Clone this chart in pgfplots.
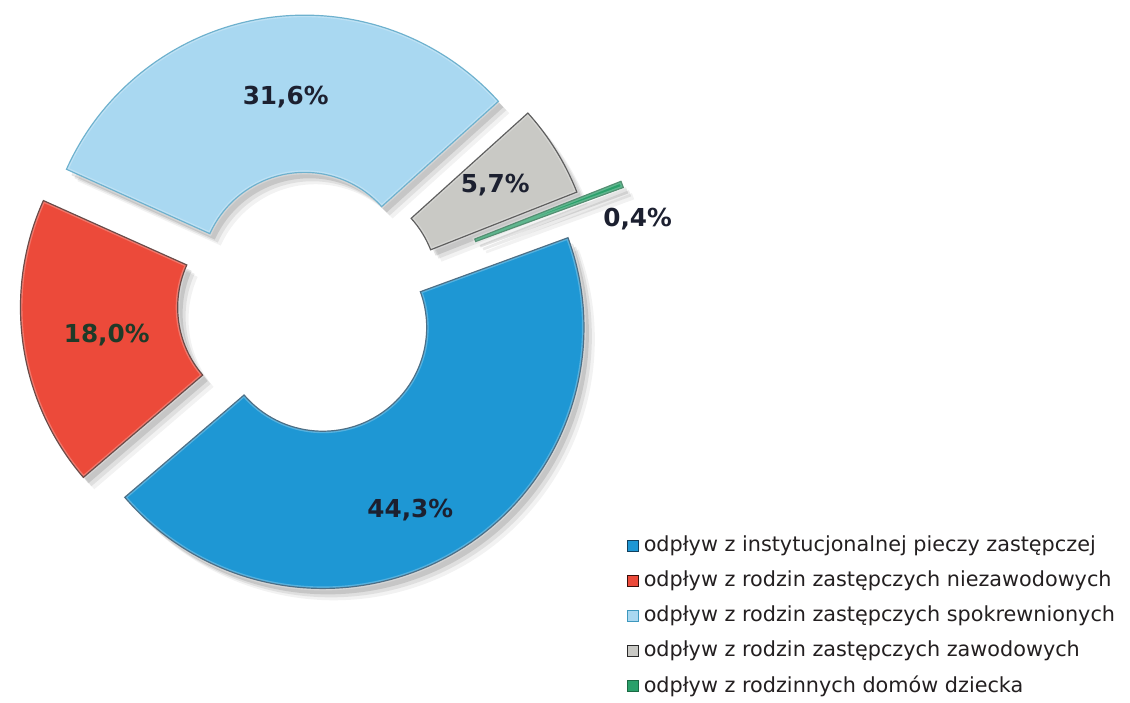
\documentclass[border=0pt]{standalone}
\usepackage{pgfplots}
\pgfplotsset{compat=1.18}
\usepackage{pgfplotstable}
\usepackage{fontspec}
\setmainfont{DejaVu Sans}

\definecolor{cBlue}{HTML}{1E97D4}
\definecolor{cBlueD}{HTML}{12405E}
\definecolor{cRed}{HTML}{EC4A3A}
\definecolor{cRedD}{HTML}{3A100C}
\definecolor{cLBlue}{HTML}{A9D8F1}
\definecolor{cLBlueD}{HTML}{3E98BE}
\definecolor{cGray}{HTML}{C9C9C5}
\definecolor{cGrayD}{HTML}{2A2A2A}
\definecolor{cGreen}{HTML}{2AA06A}
\definecolor{cGreenD}{HTML}{1B6A44}
\definecolor{cLab}{HTML}{1C2030}
\definecolor{cLabG}{HTML}{1E3A28}
\definecolor{cTxt}{HTML}{231F20}

% share (%), explosion (px)
\pgfplotstableread{
name pct explode
inst  44.3 28
niez  18.0 28
spok  31.6 28
zaw   5.7  30
rdd   0.4  75
}\datatable

\def\cx{299.5}\def\cy{388}
\def\Ro{264}\def\Ri{105}
\def\Ropt{132}\def\Ript{52.5}
\gdef\cum{20.1}
\foreach \i in {0,...,4}{%
  \pgfplotstablegetelem{\i}{pct}\of\datatable \let\p\pgfplotsretval
  \pgfplotstablegetelem{\i}{explode}\of\datatable \let\ex\pgfplotsretval
  \pgfmathsetmacro\aa{\cum}%
  \pgfmathsetmacro\ab{\cum-3.6*\p}%
  \pgfmathsetmacro\md{(\aa+\ab)/2}%
  \pgfmathsetmacro\mx{\cx+\ex*cos(\md)}%
  \pgfmathsetmacro\my{\cy+\ex*sin(\md)}%
  \pgfmathsetmacro\ox{\mx+\Ro*cos(\aa)}%
  \pgfmathsetmacro\oy{\my+\Ro*sin(\aa)}%
  \pgfmathsetmacro\ix{\mx+\Ri*cos(\ab)}%
  \pgfmathsetmacro\iy{\my+\Ri*sin(\ab)}%
  \expandafter\xdef\csname aa\i\endcsname{\aa}%
  \expandafter\xdef\csname ab\i\endcsname{\ab}%
  \expandafter\xdef\csname ox\i\endcsname{\ox}%
  \expandafter\xdef\csname oy\i\endcsname{\oy}%
  \expandafter\xdef\csname ix\i\endcsname{\ix}%
  \expandafter\xdef\csname iy\i\endcsname{\iy}%
  \xdef\cum{\ab}%
}

% #1 index, #2 dx, #3 dy (axis units), #4 style
\newcommand\sector[4]{%
  \edef\tmp{\noexpand\path[#4]
    (axis cs:{\csname ox#1\endcsname+#2},{\csname oy#1\endcsname+#3})
    arc[start angle=\csname aa#1\endcsname, end angle=\csname ab#1\endcsname, radius=\Ropt pt]
    -- (axis cs:{\csname ix#1\endcsname+#2},{\csname iy#1\endcsname+#3})
    arc[start angle=\csname ab#1\endcsname, end angle=\csname aa#1\endcsname, radius=\Ript pt]
    -- cycle;}\tmp}
\newcommand\fullsector[3]{% idx, fill, draw
  \sector{#1}{5}{-6}{fill=black, opacity=0.11}
  \sector{#1}{8}{-9}{fill=black, opacity=0.08}
  \sector{#1}{11}{-12}{fill=black, opacity=0.05}
  \sector{#1}{0}{0}{fill=#2, draw=#3, line width=0.6pt}
  \sector{#1}{0}{0}{draw=white, opacity=0.25, line width=2pt}
}

\begin{document}
\begin{tikzpicture}
\begin{axis}[
  scale only axis, width=565pt, height=347.5pt,
  xmin=0, xmax=1130, ymin=0, ymax=695,
  hide axis, clip=false,
  legend style={draw=none, fill=none, at={(axis cs:615,159)}, anchor=north west,
    font=\fontsize{10.5}{12}\selectfont\color{cTxt},
    nodes={inner sep=0.6pt, text height=8pt, text depth=2.5pt},
    row sep=6.1pt},
  legend cell align=left,
]
\path (axis cs:0,0) rectangle (axis cs:1130,695);
\fullsector{0}{cBlue}{cBlueD}
\fullsector{1}{cRed}{cRedD}
\fullsector{2}{cLBlue}{cLBlueD}
\fullsector{3}{cGray}{cGrayD}
\fullsector{4}{cGreen}{cGreenD}

\node[font=\fontsize{12.5}{14}\bfseries, text=cLab] at (axis cs:276,597) {31,6\%};
\node[font=\fontsize{12.5}{14}\bfseries, text=cLabG] at (axis cs:95,356) {18,0\%};
\node[font=\fontsize{12.5}{14}\bfseries, text=cLab] at (axis cs:402,179) {44,3\%};
\node[font=\fontsize{12.5}{14}\bfseries, text=cLab] at (axis cs:488,508) {5,7\%};
\node[font=\fontsize{12.5}{14}\bfseries, text=cLab] at (axis cs:632,473) {0,4\%};

\addlegendimage{legend image code/.code={\filldraw[fill=cBlue,draw=cBlueD,line width=0.4pt](0pt,-2.6pt) rectangle (5.6pt,3pt); \path (7.4pt,0pt);}}
\addlegendentry{odpływ z instytucjonalnej pieczy zastępczej}
\addlegendimage{legend image code/.code={\filldraw[fill=cRed,draw=cRedD,line width=0.4pt](0pt,-2.6pt) rectangle (5.6pt,3pt); \path (7.4pt,0pt);}}
\addlegendentry{odpływ z rodzin zastępczych niezawodowych}
\addlegendimage{legend image code/.code={\filldraw[fill=cLBlue,draw=cLBlueD,line width=0.4pt](0pt,-2.6pt) rectangle (5.6pt,3pt); \path (7.4pt,0pt);}}
\addlegendentry{odpływ z rodzin zastępczych spokrewnionych}
\addlegendimage{legend image code/.code={\filldraw[fill=cGray,draw=cGrayD,line width=0.4pt](0pt,-2.6pt) rectangle (5.6pt,3pt); \path (7.4pt,0pt);}}
\addlegendentry{odpływ z rodzin zastępczych zawodowych}
\addlegendimage{legend image code/.code={\filldraw[fill=cGreen,draw=cGreenD,line width=0.4pt](0pt,-2.6pt) rectangle (5.6pt,3pt); \path (7.4pt,0pt);}}
\addlegendentry{odpływ z rodzinnych domów dziecka}
\end{axis}
\end{tikzpicture}
\end{document}
